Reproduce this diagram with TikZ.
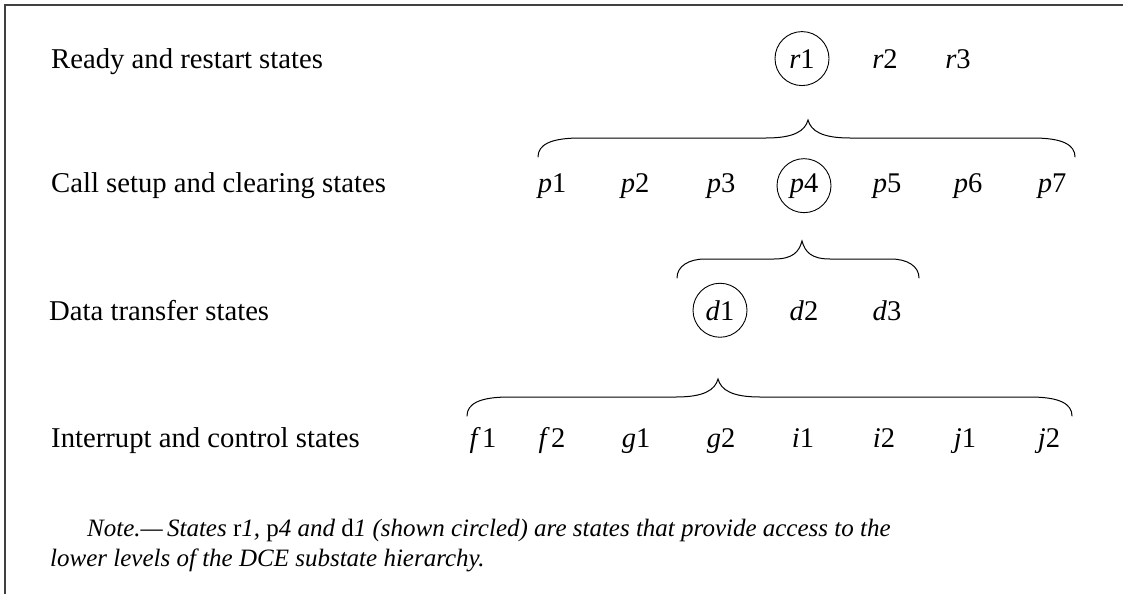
\documentclass[tikz,border=0pt]{standalone}
\usepackage{fontspec}
\setmainfont{Liberation Serif}
\begin{document}
\begin{tikzpicture}[x=1pt,y=-1pt,
  lbl/.style={anchor=base west,inner sep=0pt,font=\fontsize{28.7}{32}\selectfont},
  st/.style={anchor=base,inner sep=0pt,font=\fontsize{28.5}{32}\selectfont},
  circ/.style={st,draw,circle,minimum size=54pt,line width=0.9pt},
  bracestyle/.style={line width=1pt,line cap=round},
  frame/.style={line width=1.5pt,draw=black!75},
  note/.style={anchor=base west,inner sep=0pt,font=\fontsize{25}{28}\selectfont\itshape}]
\useasboundingbox (0,0) rectangle (1123,594);
\newcommand{\Brace}[5]{%
  \draw[bracestyle] (#1,#4+19) .. controls (#1,#4+7) and (#1+12,#4) .. (#1+#5,#4)
    -- (#3-#5,#4) .. controls (#3-#5/3,#4) and (#3-3,#4-7) .. (#3,#4-18)
    .. controls (#3+3,#4-7) and (#3+#5/3,#4) .. (#3+#5,#4)
    -- (#2-#5,#4) .. controls (#2-12,#4) and (#2,#4+7) .. (#2,#4+19);}
\newcommand{\sv}[2]{\textit{#1}#2}
% frame
\draw[frame] (5,594) -- (5,5) -- (1123,5);
% labels
\node[lbl] (L1) at (51,68) {Ready and restart states};
\node[lbl] (L2) at (51,192) {Call setup and clearing states};
\node[lbl] (L3) at (49,320) {Data transfer states};
\node[lbl] (L4) at (51,447) {Interrupt and control states};
% row r
\node[circ] (r1) at (802,68) {\sv{r}{1}};
\node[st] (r2) at (885,68) {\sv{r}{2}};
\node[st] (r3) at (958,68) {\sv{r}{3}};
% row p
\node[st] (p1) at (552,192) {\sv{p}{1}};
\node[st] (p2) at (635,192) {\sv{p}{2}};
\node[st] (p3) at (721,192) {\sv{p}{3}};
\node[circ] (p4) at (804,192) {\sv{p}{4}};
\node[st] (p5) at (887,192) {\sv{p}{5}};
\node[st] (p6) at (968,192) {\sv{p}{6}};
\node[st] (p7) at (1052,192) {\sv{p}{7}};
% row d
\node[circ] (d1) at (720,320) {\sv{d}{1}};
\node[st] (d2) at (804,320) {\sv{d}{2}};
\node[st] (d3) at (887,320) {\sv{d}{3}};
% row f
\node[st] (f1) at (483,447) {\sv{f}{\kern1.5pt 1}};
\node[st] (f2) at (552,447) {\sv{f}{\kern1.5pt 2}};
\node[st] (g1) at (636,447) {\sv{g}{1}};
\node[st] (g2) at (721,447) {\sv{g}{2}};
\node[st] (i1) at (803,447) {\sv{i}{1}};
\node[st] (i2) at (884,447) {\sv{i}{2}};
\node[st] (j1) at (965,447) {\sv{j}{1}};
\node[st] (j2) at (1049,447) {\sv{j}{2}};
% braces
\Brace{538}{1075}{808}{138}{42}
\Brace{677}{919}{802}{259}{28}
\Brace{467}{1072}{718}{397}{42}
% note
\node[note] (n1) at (87,536) {Note.—\,States \textup{r}1, \textup{p}4 and \textup{d}1 (shown circled) are states that provide access to the};
\node[note] (n2) at (50,566) {lower levels of the DCE substate hierarchy.};
\end{tikzpicture}
\end{document}
